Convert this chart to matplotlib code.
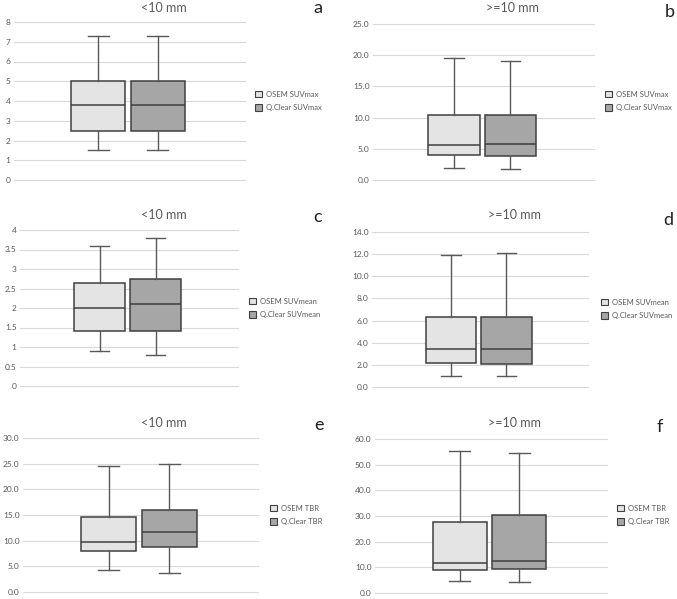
import matplotlib
matplotlib.use("Agg")
import matplotlib.pyplot as plt
from matplotlib.patches import Patch

plt.rcParams['font.family'] = ['Lato', 'DejaVu Sans']

# ---- data (min, q1, median, q3, max) ----
series_names = ["OSEM", "Q.Clear"]
titles = ["<10 mm", ">=10 mm", "<10 mm", ">=10 mm", "<10 mm", ">=10 mm"]
panel_letters = ["a", "b", "c", "d", "e", "f"]
metrics = ["SUVmax", "SUVmax", "SUVmean", "SUVmean", "TBR", "TBR"]

a_osem = [1.5, 2.5, 3.8, 5.0, 7.3]
a_qclear = [1.5, 2.5, 3.8, 5.0, 7.3]
b_osem = [1.9, 4.0, 5.6, 10.4, 19.5]
b_qclear = [1.8, 3.8, 5.8, 10.4, 19.0]
c_osem = [0.9, 1.4, 2.0, 2.65, 3.6]
c_qclear = [0.8, 1.4, 2.1, 2.75, 3.8]
d_osem = [1.0, 2.2, 3.4, 6.35, 11.9]
d_qclear = [1.0, 2.1, 3.4, 6.3, 12.1]
e_osem = [4.3, 8.0, 9.7, 14.7, 24.5]
e_qclear = [3.7, 8.8, 11.7, 16.0, 25.0]
f_osem = [4.8, 8.8, 11.8, 27.5, 55.3]
f_qclear = [4.2, 9.4, 12.3, 30.3, 54.5]

y_max = [8, 25, 4, 14, 30, 60]
y_step = [1, 5, 0.5, 2, 5, 10]
y_fmt = ["{:g}", "{:.1f}", "{:g}", "{:.1f}", "{:.1f}", "{:.1f}"]

panels = [(a_osem, a_qclear), (b_osem, b_qclear), (c_osem, c_qclear),
          (d_osem, d_qclear), (e_osem, e_qclear), (f_osem, f_qclear)]

# ---- layout (pixel rects: x0, x1, ytop, ybottom) ----
W, H = 677, 599
rects = [(14, 245, 22, 180), (373, 594, 24, 180), (20, 238, 230, 386),
         (372, 588, 232, 387), (23, 258, 438, 592), (375, 607, 439, 593)]
title_pos = [(164, 8), (513, 8), (164, 215), (514, 215), (164, 423), (515, 423)]
letter_pos = [(318, 8), (670, 12), (318, 217), (668, 220), (319, 425), (660, 427)]
legend_pos = [(255, 101), (605, 101), (249, 308), (601, 309), (270, 515), (617, 515)]

fill_colors = ["#e4e4e4", "#a6a6a6"]
edge = "#404040"
gray = "#595959"

fig = plt.figure(figsize=(W / 100, H / 100), dpi=100)

for i, (osem, qc) in enumerate(panels):
    x0, x1, yt, yb = rects[i]
    ax = fig.add_axes([x0 / W, 1 - yb / H, (x1 - x0) / W, (yb - yt) / H])
    stats = []
    for name, v in zip(series_names, (osem, qc)):
        stats.append(dict(label=name, whislo=v[0], q1=v[1], med=v[2], q3=v[3], whishi=v[4]))
    bp = ax.bxp(stats, positions=[1, 2], widths=0.91, showfliers=False,
                patch_artist=True, manage_ticks=False,
                boxprops=dict(edgecolor=edge, linewidth=1.1),
                medianprops=dict(color=edge, linewidth=1.1),
                whiskerprops=dict(color=gray, linewidth=1.0),
                capprops=dict(color=gray, linewidth=1.0),
                capwidths=0.35)
    for p, c in zip(bp['boxes'], fill_colors):
        p.set_facecolor(c)
    ax.set_xlim(-0.42, 3.47)
    ax.set_ylim(0, y_max[i])
    n = int(round(y_max[i] / y_step[i]))
    ticks = [k * y_step[i] for k in range(n + 1)]
    ax.set_yticks(ticks)
    ax.set_yticklabels([y_fmt[i].format(t) for t in ticks])
    ax.set_xticks([])
    ax.tick_params(axis='y', length=0, labelsize=6, labelcolor=gray, pad=2.5)
    ax.yaxis.grid(True, color="#d9d9d9", linewidth=0.8)
    for gl in ax.get_ygridlines():
        gl.set_clip_on(False)
    ax.set_axisbelow(True)
    for s in ax.spines.values():
        s.set_visible(False)

    tx, ty = title_pos[i]
    fig.text(tx / W, 1 - ty / H, titles[i], ha='center', va='center',
             fontsize=9, color=gray)
    lx, ly = letter_pos[i]
    fig.text(lx / W, 1 - ly / H, panel_letters[i], ha='center', va='center',
             fontsize=13, color="#202020")

    handles = [Patch(facecolor=fill_colors[k], edgecolor=edge, linewidth=0.8,
                     label=f"{series_names[k]} {metrics[i]}") for k in range(2)]
    gx, gy = legend_pos[i]
    leg = fig.legend(handles=handles, loc='center left',
                     bbox_to_anchor=(gx / W, 1 - gy / H), frameon=False,
                     fontsize=5.5, handlelength=0.9, handleheight=0.9,
                     handletextpad=0.5, labelspacing=0.8, borderpad=0, borderaxespad=0)
    for t in leg.get_texts():
        t.set_color(gray)

fig.savefig("out.png", dpi=100, facecolor="white")
